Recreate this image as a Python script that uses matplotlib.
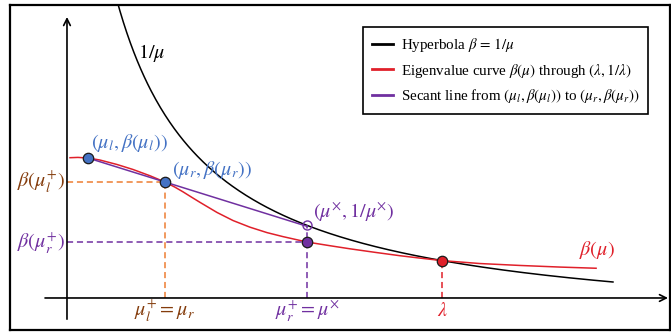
import numpy as np
import matplotlib
matplotlib.use("Agg")
import matplotlib.pyplot as plt

plt.rcParams["mathtext.fontset"] = "stix"

mu_red = [0.216, 0.254, 0.302, 0.360, 0.441, 0.518, 0.600, 0.671, 0.719,
          0.758, 0.801, 0.839, 0.921, 0.998, 1.079, 1.161, 1.237, 1.353,
          1.463, 1.559, 1.679, 1.799, 1.894, 2.000, 2.182, 2.374, 2.566, 2.739]
beta_red = [1.199, 1.201, 1.197, 1.183, 1.153, 1.119, 1.076, 1.034, 0.999,
            0.967, 0.929, 0.896, 0.827, 0.772, 0.727, 0.690, 0.663, 0.626,
            0.601, 0.580, 0.556, 0.533, 0.517, 0.500, 0.480, 0.467, 0.456, 0.448]

# special points
mu_l, beta_l = 0.302, 1.197
mu_r, beta_r = 0.671, 1.034
mu_x, beta_x = 1.353, 0.626
lam = 2.0
mu_hyp_end = 2.82

# where the hand-drawn axes cross
axis_mu, axis_beta = 0.2014, 0.246

BLACK = "black"
RED = "#E0202A"
PURPLE = "#7030A0"
BLUE = "#4472C4"
ORANGE = "#ED7D31"
BROWN = "#843C0C"

fig = plt.figure(figsize=(6.71, 3.32), dpi=100)
ax = fig.add_axes([10 / 671, 2 / 332, 660 / 671, 325 / 332])
ax.set_xlim(-0.0719, 3.0935)
ax.set_ylim(0.0285, 2.2364)
ax.set_xticks([])
ax.set_yticks([])
for sp in ax.spines.values():
    sp.set_linewidth(1.6)
    sp.set_color("black")

# axes with arrow heads
arrow = dict(arrowstyle="->", lw=1.2, color="black", mutation_scale=12,
             shrinkA=0, shrinkB=0)
ax.annotate("", xy=(3.084, axis_beta), xytext=(0.096, axis_beta),
            arrowprops=arrow, annotation_clip=False)
ax.annotate("", xy=(axis_mu, 2.155), xytext=(axis_mu, 0.102),
            arrowprops=arrow, annotation_clip=False)

# hyperbola 1/mu
mu_h = np.linspace(0.05, mu_hyp_end, 500)
ax.plot(mu_h, 1 / mu_h, color=BLACK, lw=1.1, label=r"Hyperbola $\beta\, =\, 1/\mu$")

# eigenvalue curve
ax.plot(mu_red, beta_red, color=RED, lw=1.1,
        label=r"Eigenvalue curve $\beta(\mu)$ through $(\lambda, 1/\lambda)$")

# secant through (mu_l, beta_l) and (mu_r, beta_r), extended to mu_x
slope = (beta_r - beta_l) / (mu_r - mu_l)
sec_mu = np.array([mu_l, mu_x])
ax.plot(sec_mu, beta_l + slope * (sec_mu - mu_l), color=PURPLE, lw=1.1,
        label=r"Secant line from $(\mu_l, \beta(\mu_l))$ to $(\mu_r, \beta(\mu_r))$")

# dashed guides
dash = dict(lw=1.1, ls=(0, (4, 2.5)))
ax.plot([axis_mu, mu_r], [beta_r, beta_r], color=ORANGE, **dash)
ax.plot([mu_r, mu_r], [axis_beta, beta_r], color=ORANGE, **dash)
ax.plot([axis_mu, mu_x], [beta_x, beta_x], color=PURPLE, **dash)
ax.plot([mu_x, mu_x], [axis_beta, 1 / mu_x], color=PURPLE, **dash)
ax.plot([lam, lam], [axis_beta, 1 / lam], color=RED, **dash)

# points
ax.plot([mu_l, mu_r], [beta_l, beta_r], "o", ms=7.5, mfc=BLUE, mec="#1a1a1a", mew=0.9)
ax.plot([mu_x], [1 / mu_x], "o", ms=6.5, mfc="none", mec=PURPLE, mew=1.0)
ax.plot([mu_x], [beta_x], "o", ms=7.5, mfc=PURPLE, mec="#1a1a1a", mew=0.9)
ax.plot([lam], [1 / lam], "o", ms=7.5, mfc=RED, mec="#1a1a1a", mew=0.9)

# labels
fs = 14.5
ax.text(0.609, 1.910, r"$1/\mu$", fontsize=fs, color=BLACK, ha="center", va="center")
ax.text(0.317, 1.299, r"$(\mu_l,\beta(\mu_l))$", fontsize=fs, color=BLUE, va="center")
ax.text(0.705, 1.115, r"$(\mu_r,\beta(\mu_r))$", fontsize=fs, color=BLUE, va="center")
ax.text(1.381, 0.830, r"$(\mu^{\times},1/\mu^{\times})$", fontsize=fs, color=PURPLE, va="center")
ax.text(2.743, 0.572, r"$\beta(\mu)$", fontsize=fs, color=RED, ha="center", va="center")
ax.text(0.192, beta_r, r"$\beta(\mu_l^{+})$", fontsize=fs, color=BROWN, ha="right", va="center")
ax.text(0.192, beta_x, r"$\beta(\mu_r^{+})$", fontsize=fs, color=PURPLE, ha="right", va="center")
ax.text(mu_r, 0.158, r"$\mu_l^{+} = \mu_r$", fontsize=fs, color=BROWN, ha="center", va="center")
ax.text(mu_x, 0.158, r"$\mu_r^{+} = \mu^{\times}$", fontsize=fs, color=PURPLE, ha="center", va="center")
ax.text(lam, 0.158, r"$\lambda$", fontsize=fs, color=RED, ha="center", va="center")

leg = ax.legend(loc="upper left", bbox_to_anchor=(0.535, 0.932), borderaxespad=0,
                prop={"family": "Liberation Serif", "size": 10.8}, frameon=True,
                fancybox=False, framealpha=1, edgecolor="black",
                handlelength=1.4, handletextpad=0.5, borderpad=0.6,
                labelspacing=0.5)
leg.get_frame().set_linewidth(1.2)
for h in leg.get_lines():
    h.set_linewidth(2.0)

fig.savefig("out.png", dpi=100)
